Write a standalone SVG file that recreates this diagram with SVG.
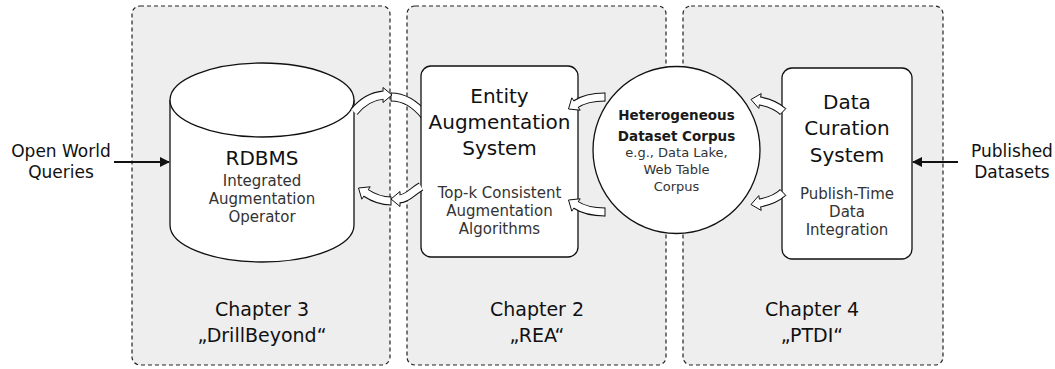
<svg xmlns="http://www.w3.org/2000/svg" width="1055" height="369" viewBox="0 0 1055 369">
<defs>
<style>
.panel{fill:#eeeeee;stroke:#222;stroke-width:1.2;stroke-dasharray:4 3}
.node{fill:#fff;stroke:#111;stroke-width:1.3}
.t{font-family:"DejaVu Sans","Liberation Sans",sans-serif;text-anchor:middle;fill:#111}
.title{font-size:20px}
.sub{font-size:15px;fill:#333}
.chap{font-size:19px}
.ext{font-size:17px}
.cb{font-size:13.5px;font-weight:bold;fill:#1a1a1a}
.cs{font-size:13px;fill:#333}
.bo{fill:none;stroke:#111;stroke-width:9}
.bi{fill:none;stroke:#fff;stroke-width:7}
.hd{fill:#fff;stroke:#111;stroke-width:1}
.cap{stroke:#111;stroke-width:1}
</style>
<marker id="ah" viewBox="0 0 10 10" refX="9" refY="5" markerWidth="12" markerHeight="10" markerUnits="userSpaceOnUse" orient="auto">
<path d="M0,0 L10,5 L0,10 z" fill="#111"/>
</marker>
</defs>
<g id="panel-ch3"><rect class="panel" x="132" y="6" width="258" height="359" rx="8"/>
<text class="t chap" x="262" y="316">Chapter 3</text><text class="t chap" x="262" y="342">„DrillBeyond“</text></g>
<g id="panel-ch2"><rect class="panel" x="407" y="6" width="259" height="359" rx="8"/>
<text class="t chap" x="537" y="316">Chapter 2</text><text class="t chap" x="537" y="342">„REA“</text></g>
<g id="panel-ch4"><rect class="panel" x="683" y="6" width="260" height="359" rx="8"/>
<text class="t chap" x="812" y="316">Chapter 4</text><text class="t chap" x="812" y="342">„PTDI“</text></g>

<g id="connectors-under">
<path class="bo" d="M391,97 C405,97 415,104 425,116"/>
<path class="bi" d="M391,97 C405,97 415,104 425,116"/>
<line class="cap" x1="391" y1="92.5" x2="391" y2="101.5"/>
</g>

<g id="node-entity"><rect class="node" x="421" y="66" width="157" height="191" rx="10"/>
<text class="t title" x="499.5" y="103">Entity</text>
<text class="t title" x="499.5" y="129">Augmentation</text>
<text class="t title" x="499.5" y="155">System</text>
<text class="t sub" x="499.5" y="198">Top-k Consistent</text>
<text class="t sub" x="499.5" y="216">Augmentation</text>
<text class="t sub" x="499.5" y="234">Algorithms</text></g>

<g id="node-rdbms">
<path class="node" d="M170,100 L170,225 A92,37 0 0 0 354,225 L354,100"/>
<ellipse class="node" cx="262" cy="100" rx="92" ry="37"/>
<text class="t title" x="262" y="165">RDBMS</text>
<text class="t sub" x="262" y="186">Integrated</text>
<text class="t sub" x="262" y="204">Augmentation</text>
<text class="t sub" x="262" y="222">Operator</text></g>

<g id="node-corpus"><circle class="node" cx="676.5" cy="150" r="83.5"/>
<text class="t cb" x="676.5" y="120">Heterogeneous</text>
<text class="t cb" x="676.5" y="140.5">Dataset Corpus</text>
<text class="t cs" x="676.5" y="157">e.g., Data Lake,</text>
<text class="t cs" x="676.5" y="174">Web Table</text>
<text class="t cs" x="676.5" y="191">Corpus</text></g>

<g id="node-curation"><rect class="node" x="782" y="68" width="130" height="191" rx="10"/>
<text class="t title" x="847" y="109">Data</text>
<text class="t title" x="847" y="135">Curation</text>
<text class="t title" x="847" y="162">System</text>
<text class="t sub" x="847" y="199">Publish-Time</text>
<text class="t sub" x="847" y="217">Data</text>
<text class="t sub" x="847" y="235">Integration</text></g>

<g id="connectors">
<line x1="114" y1="162" x2="169" y2="162" stroke="#111" stroke-width="2" marker-end="url(#ah)"/>
<line x1="958" y1="162" x2="913" y2="162" stroke="#111" stroke-width="2" marker-end="url(#ah)"/>
<path class="bo" d="M354,112 C362,102 372,96 383,95"/>
<polygon class="hd" points="392,95 383,87.5 383,102.5"/>
<path class="bi" d="M354,112 C362,102 372,96 384.5,95"/>
<path class="bo" d="M421,186.5 C413,191 407,199 400,199"/>
<polygon class="hd" points="391,199 400,191.5 400,206.5"/>
<path class="bi" d="M421,186.5 C413,191 407,199 398.5,199"/>
<path class="bo" d="M391,201 C380,201 372,197 366,193"/>
<polygon class="hd" points="358.5,188 370.2,186.8 361.8,199.2"/>
<path class="bi" d="M391,201 C380,201 372,197 364.8,192.2"/>
<line class="cap" x1="391" y1="196.5" x2="391" y2="205.5"/>
<path class="bo" d="M605,97 C592,97 582,100 576,104"/>
<polygon class="hd" points="568.5,109 580.2,110.2 571.8,97.8"/>
<path class="bi" d="M605,97 C592,97 582,100 574.8,104.8"/>
<line class="cap" x1="605" y1="92.5" x2="605" y2="101.5"/>
<path class="bo" d="M605,212 C592,212 582,209 576,205"/>
<polygon class="hd" points="568.5,200 580.2,198.8 571.8,211.2"/>
<path class="bi" d="M605,212 C592,212 582,209 574.8,204.2"/>
<line class="cap" x1="605" y1="207.5" x2="605" y2="216.5"/>
<path class="bo" d="M783,111.5 C778,107 771,103 760,101"/>
<polygon class="hd" points="751,99.5 761.2,93.6 758.8,108.4"/>
<path class="bi" d="M783,111.5 C778,107 771,103 758.5,100.8"/>
<line class="cap" x1="786" y1="108.5" x2="780" y2="114.5"/>
<path class="bo" d="M783,192.5 C778,197 771,201 760,203"/>
<polygon class="hd" points="751,204.5 758.8,195.6 761.2,210.4"/>
<path class="bi" d="M783,192.5 C778,197 771,201 758.5,203.2"/>
<line class="cap" x1="780" y1="189.5" x2="786" y2="195.5"/>
</g>

<g id="label-open"><text class="t ext" x="61" y="157">Open World</text><text class="t ext" x="61" y="178">Queries</text></g>
<g id="label-published"><text class="t ext" x="1012" y="157">Published</text><text class="t ext" x="1012" y="178">Datasets</text></g>
</svg>
